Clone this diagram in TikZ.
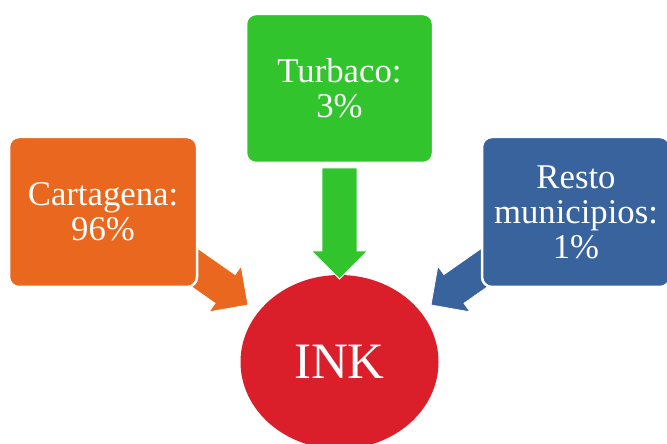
\documentclass[tikz,border=0pt]{standalone}
\usepackage{fontspec}
\setmainfont{Liberation Serif}
\usetikzlibrary{shapes.geometric}
\definecolor{cOrange}{RGB}{233,103,30}
\definecolor{cGreen}{RGB}{50,196,44}
\definecolor{cBlue}{RGB}{56,99,157}
\definecolor{cRed}{RGB}{218,31,42}
\tikzset{
  box/.style={rectangle, rounded corners=10pt, draw=white, line width=2.5pt,
    minimum width=188pt, minimum height=150pt, inner sep=0pt, align=center,
    text=white, font=\fontsize{34.7}{35}\selectfont},
  blockarrow/.style={draw=white, line width=0.8pt},
}
\newcommand{\blockarr}[4]{% tip, angle, length, colour
  \begin{scope}[shift={(#1)}, rotate=#2]
    \fill[#4, blockarrow] (0,0) -- (-28,28) -- (-28,17.5) -- (-#3,17.5) -- (-#3,-17.5) -- (-28,-17.5) -- (-28,-28) -- cycle;
  \end{scope}}
\begin{document}
\begin{tikzpicture}[x=1pt,y=1pt]
  \useasboundingbox (0,0) rectangle (667,444);
  \node[ellipse, fill=cRed, minimum width=198pt, minimum height=174pt, inner sep=0pt,
        text=white, font=\fontsize{51}{51}\selectfont] (ink) at (339.5,82) {INK};
  \coordinate (tipO) at (248,139);
  \coordinate (tipG) at (339.5,165);
  \coordinate (tipB) at (431,139);
  \blockarr{tipO}{-35}{85}{cOrange}
  \blockarr{tipG}{-90}{111}{cGreen}
  \blockarr{tipB}{215}{85}{cBlue}
  \node[box, fill=cOrange] (cart) at (103,232) {Cartagena:\\96\%};
  \node[box, fill=cGreen, minimum width=187pt, minimum height=149pt] (turb) at (339.5,355.5) {Turbaco:\\3\%};
  \node[box, fill=cBlue] (resto) at (576,232) {Resto\\municipios:\\1\%};
\end{tikzpicture}
\end{document}
